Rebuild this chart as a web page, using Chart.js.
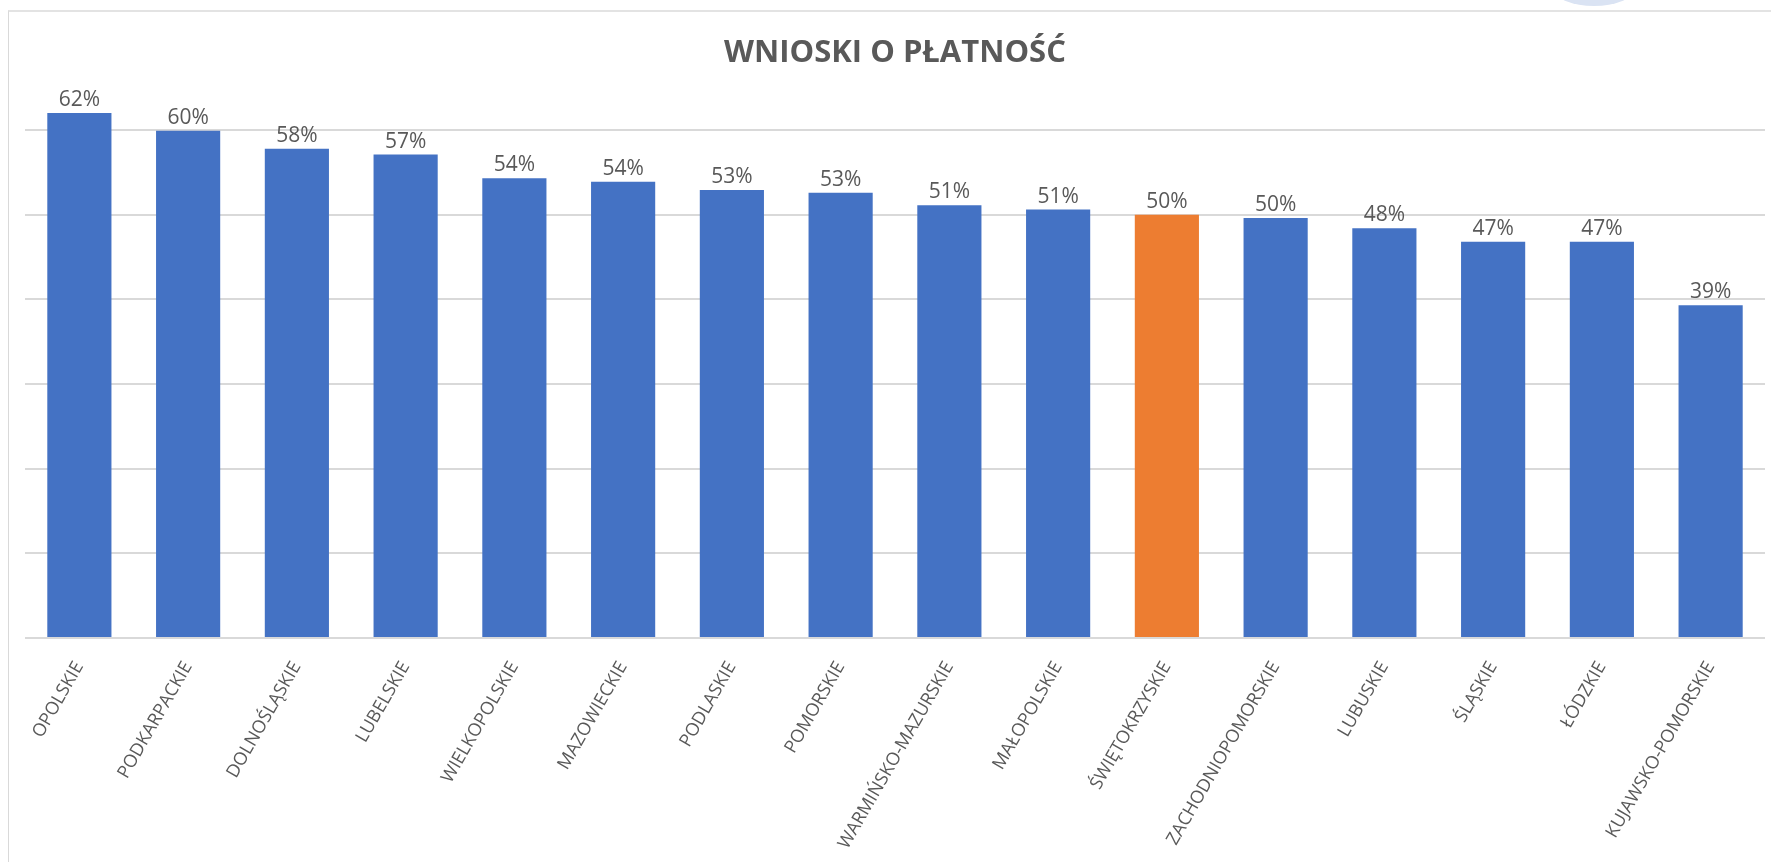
<!DOCTYPE html>
<html>
<head>
<meta charset="utf-8">
<script src="https://cdn.jsdelivr.net/npm/chart.js@4"></script>
<style>
  html, body { margin: 0; padding: 0; background: #fff; overflow: hidden; }
  #wrap { position: relative; width: 1771px; height: 862px; }
  #frame { position: absolute; left: 8px; top: 10px; width: 1800px; height: 900px;
           border-left: 1px solid #d9d9d9; border-top: 2px solid #e3e3e3; }
  #blob { position: absolute; left: 1555px; top: -26px; width: 78px; height: 32px;
          border-radius: 50%; background: #dae3f3; }
  canvas { position: absolute; left: 0; top: 0; }
</style>
</head>
<body>
<div id="wrap">
  <div id="frame"></div>
  <div id="blob"></div>
  <canvas id="myChart" width="1771" height="862"></canvas>
</div>
<script>
const regions = ['OPOLSKIE', 'PODKARPACKIE', 'DOLNOŚLĄSKIE', 'LUBELSKIE', 'WIELKOPOLSKIE',
  'MAZOWIECKIE', 'PODLASKIE', 'POMORSKIE', 'WARMIŃSKO-MAZURSKIE', 'MAŁOPOLSKIE',
  'ŚWIĘTOKRZYSKIE', 'ZACHODNIOPOMORSKIE', 'LUBUSKIE', 'ŚLĄSKIE', 'ŁÓDZKIE', 'KUJAWSKO-POMORSKIE'];
const shares = [0.620, 0.599, 0.578, 0.571, 0.543, 0.539, 0.529, 0.526, 0.511, 0.506,
  0.500, 0.496, 0.484, 0.468, 0.468, 0.393];
const highlighted = 'ŚWIĘTOKRZYSKIE';
const yTicks = [0, 0.1, 0.2, 0.3, 0.4, 0.5, 0.6];

const barColors = regions.map(r => r === highlighted ? '#ED7D31' : '#4472C4');

// percent labels above the bars
const barLabels = {
  id: 'barLabels',
  afterDatasetsDraw(chart) {
    const ctx = chart.ctx;
    const meta = chart.getDatasetMeta(0);
    ctx.save();
    ctx.font = '21px "Open Sans"';
    ctx.fillStyle = '#595959';
    ctx.textAlign = 'center';
    ctx.textBaseline = 'alphabetic';
    meta.data.forEach((bar, i) => {
      ctx.fillText(Math.round(shares[i] * 100) + '%', bar.x, bar.y - 7);
    });
    ctx.restore();
  }
};

window.addEventListener('load', setupChart);

function setupChart() {
  const ctx = document.getElementById('myChart').getContext('2d');
  new Chart(ctx, {
    type: 'bar',
    data: {
      labels: regions,
      datasets: [{
        data: shares,
        backgroundColor: barColors,
        barPercentage: 0.59,
        categoryPercentage: 1
      }]
    },
    options: {
      responsive: false,
      animation: false,
      layout: { padding: { left: 0, right: 6, top: 0, bottom: 0 } },
      plugins: {
        legend: { display: false },
        tooltip: { enabled: false },
        title: {
          display: true,
          fullSize: false,
          text: 'WNIOSKI O PŁATNOŚĆ',
          color: '#595959',
          font: { family: 'Open Sans', size: 31, weight: 'bold', lineHeight: 1.2 },
          padding: { top: 35, bottom: 7 }
        }
      },
      scales: {
        x: {
          grid: { display: false },
          border: { display: false },
          ticks: {
            autoSkip: false,
            maxRotation: 60,
            minRotation: 60,
            padding: 12,
            color: '#595959',
            font: { family: 'Open Sans', size: 18 }
          },
          afterFit(scale) { scale.height = 224; }
        },
        y: {
          min: 0,
          max: 0.66,
          afterBuildTicks(scale) { scale.ticks = yTicks.map(v => ({ value: v })); },
          grid: { color: '#d9d9d9', lineWidth: 2, drawTicks: false },
          border: { display: false },
          ticks: { display: false },
          afterFit(scale) { scale.width = 25; }
        }
      }
    },
    plugins: [barLabels]
  });
}
</script>
</body>
</html>
